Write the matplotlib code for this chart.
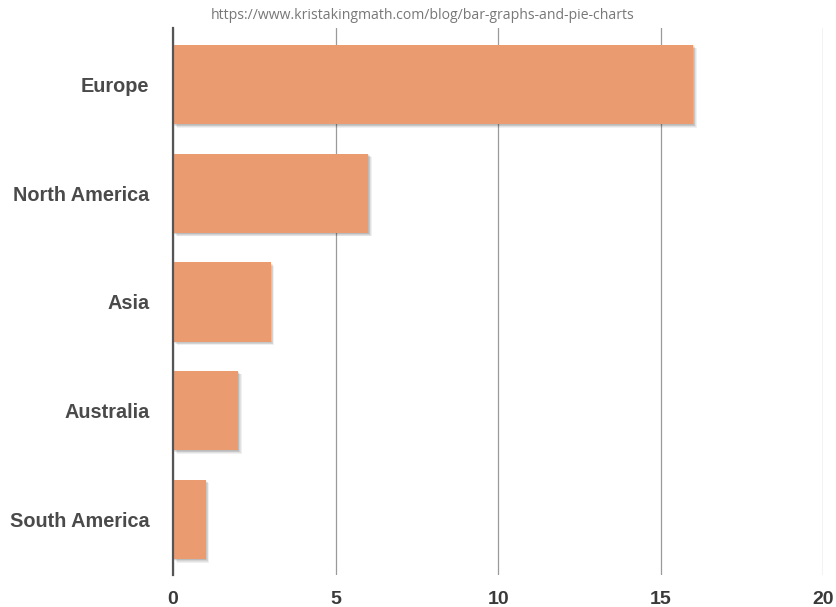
import matplotlib.pyplot as plt
import matplotlib.patheffects as pe

regions = ["Europe", "North America", "Asia", "Australia", "South America"]
counts = [16, 6, 3, 2, 1]
x_ticks = [0, 5, 10, 15, 20]
source = "https://www.kristakingmath.com/blog/bar-graphs-and-pie-charts"


def main():
    fig = plt.figure(figsize=(8.36, 6.07), dpi=100)
    ax = fig.add_axes([0.207, 0.053, 0.778, 0.901])

    ypos = list(range(len(regions)))
    bars = ax.barh(ypos, counts, height=0.73, color="#EB9B70", zorder=3)

    # soft drop shadow, built from a few faint offset copies
    shadow = [pe.SimplePatchShadow(offset=(d, -d), shadow_rgbFace="black", alpha=0.06)
              for d in (0.5, 1.0, 1.5, 2.0, 2.5)]
    for b in bars:
        b.set_path_effects(shadow + [pe.Normal()])

    ax.set_xlim(0, 20)
    ax.set_ylim(len(regions) - 0.49, -0.52)
    ax.set_xticks(x_ticks)
    ax.set_yticks(ypos)
    ax.set_yticklabels(regions)
    ax.xaxis.grid(True, color="#9a9a9a", linewidth=0.9, zorder=0)
    ax.tick_params(length=0)
    ax.tick_params(axis="y", pad=17)
    ax.tick_params(axis="x", pad=12)
    for lab in ax.get_yticklabels():
        lab.set_fontfamily("Liberation Sans")
        lab.set_fontweight("bold")
        lab.set_fontsize(14.3)
        lab.set_color("#4a4a4a")
    for lab in ax.get_xticklabels():
        lab.set_fontfamily("Liberation Sans")
        lab.set_fontweight("bold")
        lab.set_fontsize(14)
        lab.set_color("#3a3a3a")

    for side in ["top", "right", "bottom"]:
        ax.spines[side].set_visible(False)
    ax.spines["left"].set_color("#555555")
    ax.spines["left"].set_linewidth(1.6)
    ax.spines["left"].set_zorder(4)

    fig.text(0.505, 0.975, source, ha="center", va="center",
             fontsize=10.1, color="#777777", family="Open Sans")

    fig.savefig("out.png", dpi=100)


if __name__ == "__main__":
    main()
